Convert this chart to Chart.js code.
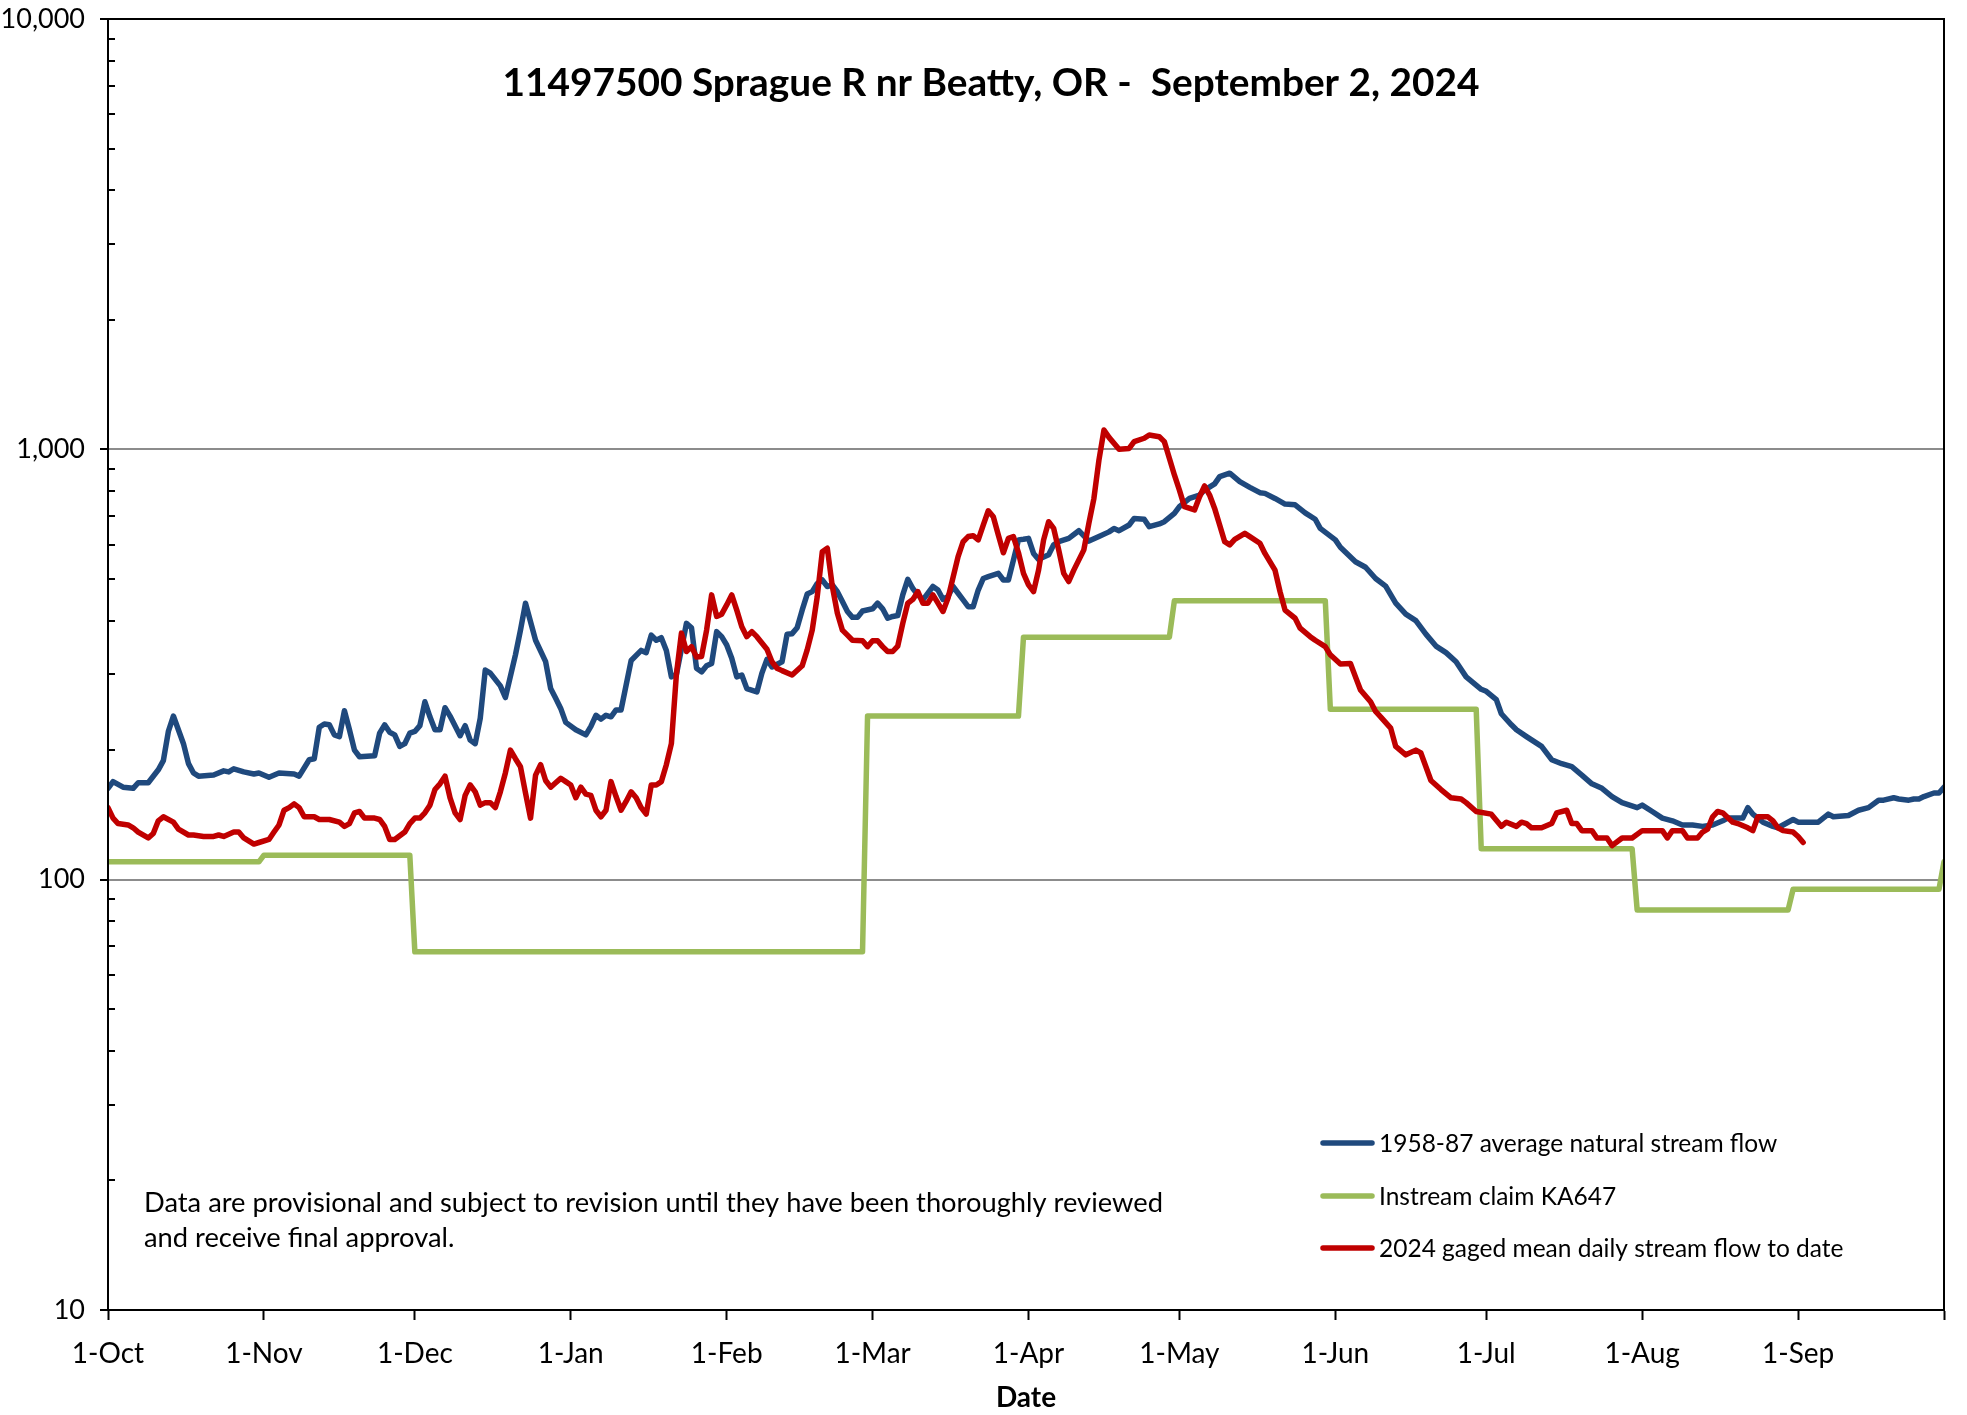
<!DOCTYPE html>
<html>
<head>
<meta charset="utf-8">
<title>11497500 Sprague R nr Beatty, OR</title>
<script src="https://cdn.jsdelivr.net/npm/chart.js@4.4.1/dist/chart.umd.min.js"></script>
<style>
  html, body { margin: 0; padding: 0; background: #fff; }
</style>
</head>
<body>
<canvas id="flowChart" width="1967" height="1415"></canvas>
<script>
// x values are days of the water year (0 = 1-Oct), y values are cfs
const monthLabels = ['1-Oct', '1-Nov', '1-Dec', '1-Jan', '1-Feb', '1-Mar', '1-Apr', '1-May', '1-Jun', '1-Jul', '1-Aug', '1-Sep'];
const monthStartDays = [0, 31, 61, 92, 123, 152, 183, 213, 244, 274, 305, 336];
const lastDay = 365;

const yDecades = [10, 100, 1000, 10000];
const yTickLabels = ['10', '100', '1,000', '10,000'];

// 1958-87 average natural stream flow
const avgNaturalFlow = [
  [0,163],[1,169],[3,164],[5,163],[6,168],[8,168],[10,180],[11,189],[12,221],[13,240],
  [15,207],[16,186],[17,177],[18,174],[21,175],[23,179],[24,178],[25,181],[27,178],[29,176],
  [30,177],[32,173],[34,177],[37,176],[38,174],[40,190],[41,191],[42,226],[43,230],[44,229],
  [45,217],[46,215],[47,247],[48,223],[49,200],[50,193],[53,194],[54,219],[55,229],[56,220],
  [57,217],[58,204],[59,207],[60,219],[61,221],[62,228],[63,259],[64,239],[65,223],[66,223],
  [67,251],[68,240],[70,216],[71,228],[72,211],[73,207],[74,237],[75,307],[76,302],[78,282],
  [79,265],[81,333],[82,380],[83,439],[85,360],[87,321],[88,278],[89,264],[90,250],[91,232],
  [93,223],[95,217],[96,227],[97,241],[98,236],[99,241],[100,239],[101,248],[102,248],[104,323],
  [106,341],[107,337],[108,370],[109,360],[110,365],[111,341],[112,296],[113,300],[115,394],[116,385],
  [117,310],[118,304],[119,314],[120,318],[121,377],[122,367],[123,351],[124,327],[125,296],[126,299],
  [127,278],[129,273],[130,302],[131,325],[132,312],[134,321],[135,372],[136,373],[137,385],[138,423],
  [139,461],[140,467],[141,488],[142,497],[143,480],[144,484],[145,467],[146,443],[147,420],[148,407],
  [149,407],[150,421],[152,426],[153,439],[154,426],[155,405],[156,409],[157,411],[158,459],[159,499],
  [160,475],[161,459],[162,447],[163,463],[164,480],[165,471],[166,448],[167,455],[168,480],[169,463],
  [170,447],[171,431],[172,431],[173,471],[174,501],[175,506],[177,515],[178,497],[179,497],[180,553],
  [181,616],[182,618],[183,621],[184,573],[185,555],[187,569],[188,600],[189,610],[191,621],[193,647],
  [195,612],[197,627],[199,643],[200,655],[201,647],[203,667],[204,691],[206,688],[207,661],[209,671],
  [210,679],[212,710],[213,736],[215,769],[217,783],[218,804],[220,831],[221,864],[223,880],[225,841],
  [227,816],[229,793],[230,790],[232,769],[234,746],[236,743],[238,712],[240,688],[241,655],[244,616],
  [245,592],[248,548],[250,532],[252,501],[254,481],[256,439],[258,414],[260,400],[262,372],[264,349],
  [266,337],[268,321],[270,296],[273,277],[274,274],[276,262],[277,243],[279,229],[280,223],[282,215],
  [285,204],[287,190],[289,186],[291,183],[293,175],[295,167],[297,163],[299,156],[301,151],[304,147],
  [305,149],[307,144],[309,139],[311,137],[313,134],[315,134],[317,133],[319,134],[321,137],[322,139],
  [325,139],[326,147],[327,142],[329,136],[331,133],[332,132],[335,138],[336,136],[340,136],[342,142],
  [343,140],[346,141],[348,145],[350,147],[352,153],[353,153],[355,155],[356,154],[358,153],[359,154],
  [360,154],[361,156],[363,159],[364,159],[365,164]
];

// Instream claim KA647
const instreamClaim = [
  [0,110],[30,110],[31,114],[60,114],[61,68],[150,68],[151,240],[181,240],[182,366],[211,366],
  [212,445],[242,445],[243,249],[272,249],[273,118],[303,118],[304,85],[334,85],[335,95],[364,95],
  [365,110]
];

// 2024 gaged mean daily stream flow to date
const gagedFlow2024 = [
  [0,147],[1,139],[2,135],[4,134],[5,132],[6,129],[8,125],[9,128],[10,137],[11,140],
  [13,136],[14,131],[16,127],[17,127],[19,126],[21,126],[22,127],[23,126],[25,129],[26,129],
  [27,125],[29,121],[30,122],[32,124],[33,129],[34,134],[35,145],[36,147],[37,150],[38,147],
  [39,140],[41,140],[42,138],[44,138],[46,136],[47,133],[48,135],[49,143],[50,144],[51,139],
  [53,139],[54,138],[55,133],[56,124],[57,124],[59,129],[60,135],[61,139],[62,139],[63,143],
  [64,149],[65,162],[66,167],[67,174],[68,155],[69,143],[70,138],[71,157],[72,166],[73,160],
  [74,149],[75,151],[76,151],[77,147],[78,160],[79,177],[80,200],[81,191],[82,183],[83,159],
  [84,139],[85,175],[86,185],[87,170],[88,164],[89,168],[90,172],[91,169],[92,166],[93,155],
  [94,164],[95,158],[96,157],[97,145],[98,140],[99,145],[100,169],[101,156],[102,145],[103,152],
  [104,160],[105,155],[106,147],[107,142],[108,166],[109,166],[110,169],[111,185],[112,207],[113,300],
  [114,374],[115,339],[116,348],[117,329],[118,330],[119,380],[120,459],[121,409],[122,414],[123,435],
  [124,459],[125,423],[126,387],[127,367],[128,377],[129,367],[131,343],[132,321],[133,310],[134,306],
  [136,299],[138,314],[139,342],[140,380],[141,455],[142,578],[143,589],[144,480],[145,416],[146,380],
  [147,370],[148,360],[150,359],[151,348],[152,359],[153,359],[154,348],[155,339],[156,339],[157,349],
  [158,394],[159,439],[160,448],[161,467],[162,439],[163,439],[164,459],[165,439],[166,420],[167,451],
  [169,563],[170,610],[171,627],[172,630],[173,616],[174,667],[175,720],[176,697],[177,632],[178,575],
  [179,621],[180,627],[181,575],[182,515],[183,484],[184,467],[185,524],[186,616],[187,679],[188,655],
  [189,584],[190,515],[191,493],[192,524],[194,584],[195,673],[196,769],[197,944],[198,1109],[199,1066],
  [201,1000],[203,1005],[204,1042],[206,1061],[207,1080],[209,1070],[210,1042],[211,953],[212,872],[213,804],
  [214,736],[216,723],[217,776],[218,822],[219,783],[220,729],[221,667],[222,610],[223,600],[224,618],
  [226,638],[227,627],[229,605],[230,573],[232,524],[233,467],[234,423],[236,405],[237,384],[239,367],
  [240,360],[242,348],[243,333],[245,317],[247,318],[248,296],[249,276],[251,259],[252,246],[253,239],
  [255,225],[256,204],[258,195],[260,200],[261,197],[262,183],[263,170],[265,162],[267,155],[269,154],
  [270,151],[272,144],[275,142],[277,133],[278,136],[280,133],[281,136],[282,135],[283,132],[285,132],
  [287,135],[288,143],[290,145],[291,135],[292,135],[293,130],[295,130],[296,125],[298,125],[299,120],
  [301,125],[303,125],[305,130],[309,130],[310,125],[311,130],[313,130],[314,125],[316,125],[317,129],
  [318,131],[319,140],[320,144],[321,143],[323,136],[324,135],[326,132],[327,130],[328,140],[330,140],
  [331,137],[332,132],[333,130],[335,129],[336,126],[337,122]
];

const chartTitle = '11497500 Sprague R nr Beatty, OR -  September 2, 2024';
const noteLines = [
  'Data are provisional and subject to revision until they have been thoroughly reviewed',
  'and receive final approval.'
];

const FONT = 'Lato, "Noto Sans", sans-serif';

// minor log ticks (2..9 in each decade)
const minorTicks = [];
yDecades.slice(0, -1).forEach(d => {
  for (let k = 2; k <= 9; k++) minorTicks.push(d * k);
});
const xTickDays = monthStartDays.concat([lastDay]);

function toPoints(pairs) {
  return pairs.map(([x, y]) => ({ x: x, y: y }));
}

// font size that makes text fill a given width
function fitSize(ctx, text, width, weight) {
  ctx.font = weight + ' 100px ' + FONT;
  return 100 * width / ctx.measureText(text).width;
}

// frame, inner minor ticks, title, note and legend
const decorations = {
  id: 'decorations',
  afterDraw(chart) {
    const { ctx, chartArea } = chart;
    const { left, top, right, bottom } = chartArea;
    const yScale = chart.scales.y;
    ctx.save();

    ctx.strokeStyle = '#000';
    ctx.lineWidth = 2;
    ctx.strokeRect(left, top, right - left, bottom - top);

    minorTicks.forEach(v => {
      const py = Math.round(yScale.getPixelForValue(v));
      ctx.beginPath();
      ctx.moveTo(left, py);
      ctx.lineTo(left + 7, py);
      ctx.stroke();
    });

    ctx.fillStyle = '#000';
    ctx.textBaseline = 'middle';

    // title
    const titleSize = fitSize(ctx, chartTitle, 976, 'bold');
    ctx.font = 'bold ' + titleSize.toFixed(1) + 'px ' + FONT;
    ctx.textAlign = 'center';
    ctx.fillText(chartTitle, 991, 83);

    // note
    const noteSize = fitSize(ctx, noteLines[0], 1020, 'normal');
    ctx.font = noteSize.toFixed(1) + 'px ' + FONT;
    ctx.textAlign = 'left';
    noteLines.forEach((line, i) => ctx.fillText(line, 144, 1203 + i * 35));

    // legend
    const legendY = [1143, 1196, 1248];
    const legendSize = fitSize(ctx, chart.data.datasets[0].label, 398, 'normal');
    chart.data.datasets.forEach((ds, i) => {
      ctx.strokeStyle = ds.borderColor;
      ctx.lineWidth = 5.5;
      ctx.lineCap = 'round';
      ctx.beginPath();
      ctx.moveTo(1323, legendY[i]);
      ctx.lineTo(1372, legendY[i]);
      ctx.stroke();
      ctx.font = legendSize.toFixed(1) + 'px ' + FONT;
      ctx.fillText(ds.label, 1379, legendY[i] + 1);
    });

    ctx.restore();
  }
};

const lineStyle = {
  borderWidth: 5.5,
  pointRadius: 0,
  tension: 0,
  borderJoinStyle: 'round',
  borderCapStyle: 'round',
  fill: false
};

const ctx = document.getElementById('flowChart').getContext('2d');
const chart = new Chart(ctx, {
  type: 'line',
  data: {
    datasets: [
      Object.assign({
        label: '1958-87 average natural stream flow',
        data: toPoints(avgNaturalFlow),
        borderColor: '#1F497D',
        order: 2
      }, lineStyle),
      Object.assign({
        label: 'Instream claim KA647',
        data: toPoints(instreamClaim),
        borderColor: '#9BBB59',
        order: 3
      }, lineStyle),
      Object.assign({
        label: '2024 gaged mean daily stream flow to date',
        data: toPoints(gagedFlow2024),
        borderColor: '#C00000',
        order: 1
      }, lineStyle)
    ]
  },
  options: {
    responsive: false,
    animation: false,
    devicePixelRatio: 1,
    layout: { padding: { top: 19, right: 23, left: 0, bottom: 0 } },
    plugins: {
      legend: { display: false },
      tooltip: { enabled: false },
      title: { display: false }
    },
    scales: {
      x: {
        type: 'linear',
        min: 0,
        max: lastDay,
        afterBuildTicks: (scale) => {
          scale.ticks = xTickDays.map(v => ({ value: v }));
        },
        afterFit: (scale) => {
          scale.height = 105;
          scale.paddingLeft = 0;
          scale.paddingRight = 0;
        },
        ticks: {
          autoSkip: false,
          maxRotation: 0,
          padding: 17,
          color: '#000',
          font: { family: FONT, size: 28 },
          callback: (value, index) => monthLabels[index] || ''
        },
        grid: {
          drawOnChartArea: false,
          tickLength: 10,
          tickColor: '#000',
          tickWidth: 2
        },
        border: { color: '#000', width: 2 },
        title: {
          display: true,
          text: 'Date',
          color: '#000',
          font: { family: FONT, size: 28, weight: 'bold' },
          padding: { top: 0, bottom: 0 }
        }
      },
      y: {
        type: 'logarithmic',
        min: 10,
        max: 10000,
        afterBuildTicks: (scale) => {
          scale.ticks = yDecades.concat(minorTicks).sort((a, b) => a - b).map(v => ({ value: v }));
        },
        afterFit: (scale) => {
          scale.width = 108;
          scale.paddingTop = 0;
          scale.paddingBottom = 0;
        },
        ticks: {
          autoSkip: false,
          padding: 15,
          color: '#000',
          font: { family: FONT, size: 27 },
          callback: (value) => {
            const i = yDecades.indexOf(value);
            return i >= 0 ? yTickLabels[i] : '';
          }
        },
        grid: {
          color: (c) => (c.tick && (c.tick.value === 100 || c.tick.value === 1000)) ? '#8c8c8c' : 'rgba(0,0,0,0)',
          lineWidth: 2,
          tickLength: 8,
          tickColor: (c) => (c.tick && yDecades.includes(c.tick.value)) ? '#000' : 'rgba(0,0,0,0)',
          tickWidth: 2
        },
        border: { color: '#000', width: 2 }
      }
    }
  },
  plugins: [decorations]
});
</script>
</body>
</html>
